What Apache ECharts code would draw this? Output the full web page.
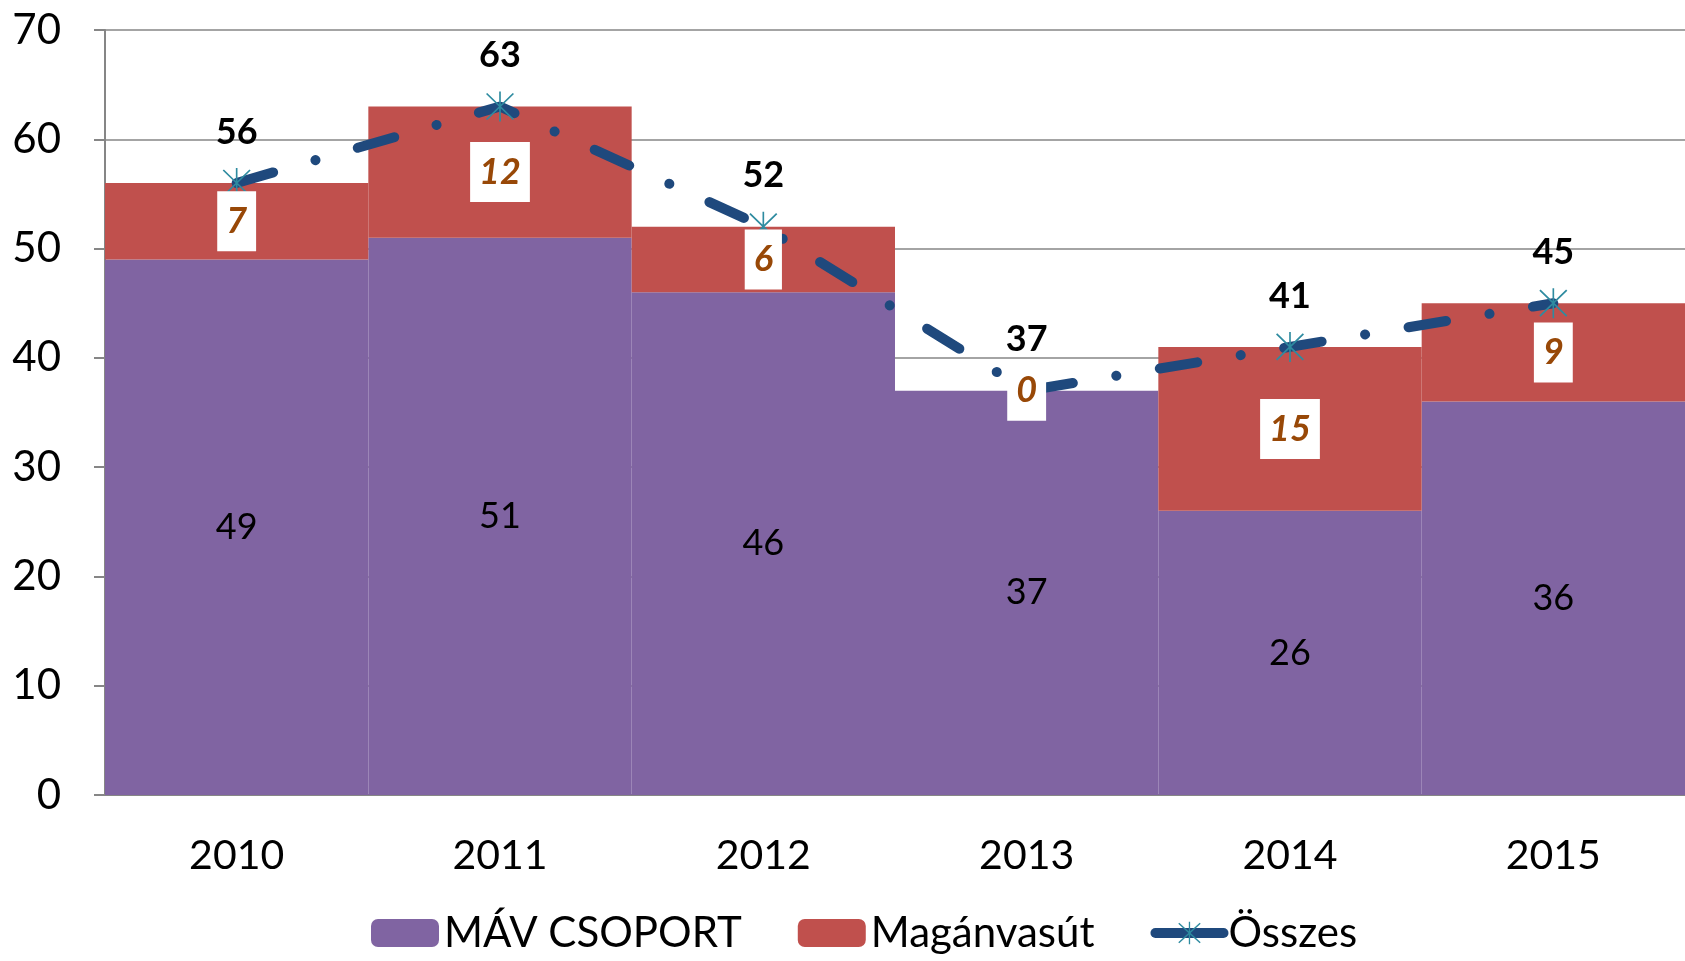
<!DOCTYPE html>
<html>
<head>
<meta charset="utf-8">
<title>MÁV CSOPORT / Magánvasút</title>
<script src="https://cdn.jsdelivr.net/npm/echarts@6/dist/echarts.min.js"></script>
<style>
  html, body { margin: 0; padding: 0; background: #fff; }
  #chart { width: 1685px; height: 961px; }
</style>
</head>
<body>
<div id="chart"></div>
<script>
// évek és értékek
const years = ["2010", "2011", "2012", "2013", "2014", "2015"];
const mavValues = [49, 51, 46, 37, 26, 36];
const privateValues = [7, 12, 6, 0, 15, 9];
const totalValues = [56, 63, 52, 37, 41, 45];

const font = "Lato";
const gridGray = "#868686";

// csillag jelölő (függőleges vonal + X)
const starPath =
  "path://M-0.8,-15L0.8,-15L0.8,15L-0.8,15Z" +
  "M-12.4,-13.6L13.6,12.4L12.4,13.6L-13.6,-12.4Z" +
  "M12.4,-13.6L13.6,-12.4L-12.4,13.6L-13.6,12.4Z";

// a magánvasút címkék a vonal fölött vannak, ezért külön rétegben
const privateLabelPoints = years.map((y, i) => [i, mavValues[i] + privateValues[i] / 2]);

const chart = echarts.init(document.getElementById("chart"));

chart.setOption({
  animation: false,
  textStyle: { fontFamily: font },
  grid: { left: 105, right: 0, top: 30, bottom: 166 },
  legend: {
    bottom: 2,
    left: 366,
    itemWidth: 68,
    itemHeight: 28,
    itemGap: 56,
    textStyle: { fontSize: 42, color: "#000", fontFamily: font },
    data: [
      "MÁV CSOPORT",
      "Magánvasút",
      { name: "Összes", lineStyle: { width: 10, type: "solid", cap: "round" } },
    ],
  },
  xAxis: {
    type: "category",
    data: years,
    axisLine: { lineStyle: { color: gridGray, width: 2 } },
    axisTick: { length: 13, lineStyle: { color: gridGray, width: 2 } },
    axisLabel: { fontSize: 41, color: "#000", margin: 40 },
  },
  yAxis: {
    type: "value",
    min: 0,
    max: 70,
    interval: 10,
    axisLine: { show: true, lineStyle: { color: gridGray, width: 2 } },
    axisTick: { show: true, length: 11, lineStyle: { color: gridGray, width: 2 } },
    axisLabel: { fontSize: 42, color: "#000", margin: 44 },
    splitLine: { lineStyle: { color: gridGray, width: 1.5 } },
  },
  series: [
    {
      name: "MÁV CSOPORT",
      type: "bar",
      stack: "total",
      barCategoryGap: "0%",
      data: mavValues,
      itemStyle: { color: "#8064A2" },
      label: {
        show: true,
        position: "inside",
        fontSize: 36,
        color: "#000",
      },
    },
    {
      name: "Magánvasút",
      type: "bar",
      stack: "total",
      barCategoryGap: "0%",
      data: privateValues,
      itemStyle: { color: "#C0504D" },
    },
    {
      name: "Összes",
      type: "line",
      data: totalValues,
      z: 5,
      symbol: starPath,
      symbolSize: [28, 30],
      itemStyle: { color: "#2E8BA0" },
      lineStyle: {
        color: "#1F497D",
        width: 10,
        cap: "round",
        type: [38, 44, 0.1, 44],
      },
      label: {
        show: true,
        position: "top",
        distance: 18,
        fontSize: 36,
        fontWeight: "bold",
        color: "#000",
      },
    },
    {
      name: "Magánvasút címke",
      type: "scatter",
      data: privateLabelPoints,
      z: 10,
      symbolSize: 0,
      silent: true,
      itemStyle: { opacity: 1 },
      label: {
        show: true,
        position: "inside",
        opacity: 1,
        formatter: (p) => String(privateValues[p.dataIndex]),
        fontSize: 36,
        fontWeight: "bold",
        fontStyle: "italic",
        color: "#984807",
        backgroundColor: "#fff",
        padding: [12, 9],
      },
    },
  ],
});
</script>
</body>
</html>
